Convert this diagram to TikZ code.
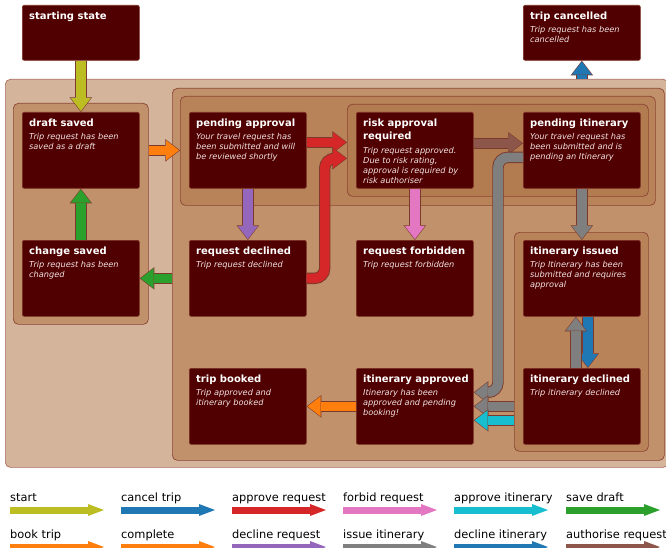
\documentclass[tikz,border=0pt]{standalone}
\usepackage{fontspec}
\setmainfont{DejaVu Sans}
\usetikzlibrary{arrows.meta,calc}
\definecolor{boxfill}{HTML}{500000}
\definecolor{boxline}{HTML}{7A2E22}
\definecolor{desccol}{HTML}{F2E4E4}
\definecolor{outerfill}{HTML}{D4B59B}
\definecolor{outerline}{HTML}{A86A5A}
\definecolor{midfill}{HTML}{C1916B}
\definecolor{grpfill}{HTML}{B9835A}
\definecolor{innerfill}{HTML}{B37B50}
\definecolor{contline}{HTML}{8C4434}
\definecolor{arrout}{HTML}{7A3A2C}
\definecolor{cololive}{HTML}{BCBD22}
\definecolor{colblue}{HTML}{1F77B4}
\definecolor{colred}{HTML}{D62728}
\definecolor{colpink}{HTML}{E377C2}
\definecolor{colcyan}{HTML}{17BECF}
\definecolor{colgreen}{HTML}{2CA02C}
\definecolor{colorange}{HTML}{FF7F0E}
\definecolor{colpurple}{HTML}{9467BD}
\definecolor{colgray}{HTML}{7F7F7F}
\definecolor{colbrown}{HTML}{8C564B}
\tikzset{
  statebox/.style={draw=boxline, fill=boxfill, rounded corners=2pt, line width=0.7pt,
    minimum width=117pt, minimum height=76pt, inner sep=0pt, anchor=north west},
  container/.style={draw=contline, line width=0.7pt, rounded corners=5pt, inner sep=0pt, anchor=north west},
  ttl/.style={font=\bfseries\fontsize{10}{13.5}\selectfont, text=white, inner sep=0pt, anchor=north west, align=left},
  dsc/.style={font=\itshape\fontsize{8.2}{10}\selectfont, text=desccol, inner sep=0pt, anchor=north west, align=left},
  arrline/.style={draw=arrout, line width=11.4pt, rounded corners=10pt,
    -{Triangle[length=14.6pt,width=22.4pt,line width=0pt]}},
  arrfill/.style={line width=9.6pt, rounded corners=10pt, shorten >=0.9pt,
    -{Triangle[length=13pt,width=20pt,line width=0pt]}},
  legtext/.style={font=\fontsize{11.4}{13}\selectfont, text=black, inner sep=0pt, anchor=base west},
  legarrow/.style={line width=7pt, -{Triangle[length=16pt,width=12pt,line width=0pt]}}
}
\newcommand\flowarrow[2]{%
  \draw[arrline] #2;
  \draw[arrfill, draw=#1] #2;
}
% name, x, y, height, title, desc offset, description
\newcommand\statenode[7]{%
  \node[statebox, minimum height=#4pt] (#1) at (#2,#3) {};
  \node[ttl] (#1-t) at ([xshift=7pt,yshift=-6.4pt]#1.north west) {#5};
  \node[dsc] (#1-d) at ([xshift=7pt,yshift=-#6pt]#1.north west) {#7};
}
\newcommand\legentry[5]{%
  \node[legtext] (#1) at (#2,#3) {#5};
  \draw[legarrow, draw=#4] ([yshift=-9pt]#1.base west) -- ++(94,0);
}
\begin{document}
\begin{tikzpicture}[x=1pt,y=-1pt]
\useasboundingbox (0,0) rectangle (666,548);
% containers
\node[container, draw=outerline, fill=outerfill, minimum width=663pt, minimum height=388pt] (outer) at (5,79) {};
\node[container, fill=midfill, minimum width=492pt, minimum height=372pt] (grpRight) at (172,88) {};
\node[container, fill=midfill, minimum width=135pt, minimum height=221pt] (grpDraft) at (13,103) {};
\node[container, fill=grpfill, minimum width=475pt, minimum height=109pt] (grpPend) at (180,96) {};
\node[container, fill=innerfill, minimum width=301pt, minimum height=92pt] (grpInner) at (347,104) {};
\node[container, fill=grpfill, minimum width=134pt, minimum height=219pt] (grpItin) at (514,232) {};
% states
\statenode{start}{22}{5}{55}{starting state}{21.3}{}
\statenode{tc}{523}{5}{55}{trip cancelled}{21.3}{Trip request has been\\cancelled}
\statenode{draft}{22}{112}{76}{draft saved}{21.3}{Trip request has been\\saved as a draft}
\statenode{pa}{189}{112}{76}{pending approval}{21.3}{Your travel request has\\been submitted and will\\be reviewed shortly}
\statenode{risk}{356}{112}{76}{risk approval\\required}{34.8}{Trip request approved.\\Due to risk rating,\\approval is required by\\risk authoriser}
\statenode{pi}{523}{112}{76}{pending itinerary}{21.3}{Your travel request has\\been submitted and is\\pending an Itinerary}
\statenode{cs}{22}{240}{76}{change saved}{21.3}{Trip request has been\\changed}
\statenode{rd}{189}{240}{76}{request declined}{21.3}{Trip request declined}
\statenode{rf}{356}{240}{76}{request forbidden}{21.3}{Trip request forbidden}
\statenode{ii}{523}{240}{76}{itinerary issued}{21.3}{Trip Itinerary has been\\submitted and requires\\approval}
\statenode{tb}{189}{368}{76}{trip booked}{21.3}{Trip approved and\\itinerary booked}
\statenode{ia}{356}{368}{76}{itinerary approved}{21.3}{Itinerary has been\\approved and pending\\booking!}
\statenode{id}{523}{368}{76}{itinerary declined}{21.3}{Trip itinerary declined}
% connectors
\flowarrow{cololive}{(start.south) -- (draft.north)}
\flowarrow{colgreen}{(cs.north) -- (draft.south)}
\flowarrow{colorange}{(draft.east -| grpDraft.east) -- (draft.east -| grpPend.west)}
\flowarrow{colred}{([yshift=8pt]pa.east) -- ([yshift=8pt]pa.east -| grpInner.west)}
\flowarrow{colred}{(rd.east) -- ++(18,0) |- ([yshift=-8pt]pa.east -| grpInner.west)}
\flowarrow{colbrown}{([yshift=7pt]risk.east) -- ([yshift=7pt]pi.west)}
\flowarrow{colpurple}{(pa.south) -- (rd.north)}
\flowarrow{colpink}{(risk.south) -- (rf.north)}
\flowarrow{colgray}{(pi.south) -- (ii.north)}
\flowarrow{colblue}{([xshift=6pt]ii.south) -- ([xshift=6pt]id.north)}
\flowarrow{colgray}{([xshift=-6pt]id.north) -- ([xshift=-6pt]ii.south)}
\flowarrow{colgray}{([yshift=-7pt]pi.west) -- ++(-25,0) |- ([yshift=14pt]ia.east)}
\flowarrow{colgray}{(ia.east -| grpItin.west) -- (ia.east)}
\flowarrow{colcyan}{([yshift=-14pt]ia.east -| grpItin.west) -- ([yshift=-14pt]ia.east)}
\flowarrow{colorange}{(ia.west) -- (tb.east)}
\flowarrow{colgreen}{(rd.west -| grpRight.west) -- (cs.east)}
\flowarrow{colblue}{(tc.south |- outer.north) -- (tc.south)}
% legend
\legentry{l1}{10}{501}{cololive}{start}
\legentry{l2}{121}{501}{colblue}{cancel trip}
\legentry{l3}{232}{501}{colred}{approve request}
\legentry{l4}{343}{501}{colpink}{forbid request}
\legentry{l5}{454}{501}{colcyan}{approve itinerary}
\legentry{l6}{566}{501}{colgreen}{save draft}
\legentry{l7}{10}{538}{colorange}{book trip}
\legentry{l8}{121}{538}{colorange}{complete}
\legentry{l9}{232}{538}{colpurple}{decline request}
\legentry{l10}{343}{538}{colgray}{issue itinerary}
\legentry{l11}{454}{538}{colblue}{decline itinerary}
\legentry{l12}{566}{538}{colbrown}{authorise request}
\end{tikzpicture}
\end{document}
